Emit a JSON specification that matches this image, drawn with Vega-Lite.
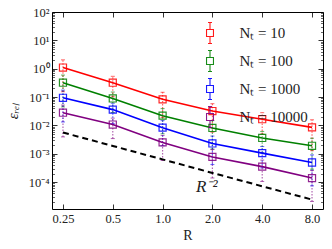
{
  "$schema": "https://vega.github.io/schema/vega-lite/v6.json",
  "width": 271,
  "height": 197,
  "autosize": {"type": "none"},
  "padding": {"left": 52, "top": 12, "right": 9, "bottom": 40},
  "config": {
    "font": "Liberation Serif",
    "view": {"stroke": "black", "strokeWidth": 1},
    "axis": {"domain": false, "grid": false, "tickColor": "black", "tickWidth": 0.8, "labelColor": "#222", "labelFont": "Liberation Serif", "labelFontSize": 12.5, "titleFont": "Liberation Serif", "titleFontWeight": "normal", "titleColor": "#222"}
  },
  "datasets": {
    "main": [
      {"series": "Nₜ = 10", "R": 0.25, "v": 1.1, "lo": 0.154, "hi": 2.05},
      {"series": "Nₜ = 10", "R": 0.5, "v": 0.32, "lo": 0.102, "hi": 0.538},
      {"series": "Nₜ = 10", "R": 1.0, "v": 0.083, "lo": 0.0191, "hi": 0.147},
      {"series": "Nₜ = 10", "R": 2.0, "v": 0.032, "lo": 0.00576, "hi": 0.0582},
      {"series": "Nₜ = 10", "R": 4.0, "v": 0.0165, "lo": 0.00495, "hi": 0.028},
      {"series": "Nₜ = 10", "R": 8.0, "v": 0.0085, "lo": 0.00128, "hi": 0.0157},
      {"series": "Nₜ = 100", "R": 0.25, "v": 0.32, "lo": 0.0448, "hi": 0.595},
      {"series": "Nₜ = 100", "R": 0.5, "v": 0.089, "lo": 0.0285, "hi": 0.15},
      {"series": "Nₜ = 100", "R": 1.0, "v": 0.022, "lo": 0.00506, "hi": 0.039},
      {"series": "Nₜ = 100", "R": 2.0, "v": 0.0081, "lo": 0.00146, "hi": 0.0147},
      {"series": "Nₜ = 100", "R": 4.0, "v": 0.0036, "lo": 0.00108, "hi": 0.00612},
      {"series": "Nₜ = 100", "R": 8.0, "v": 0.0019, "lo": 0.000285, "hi": 0.00352},
      {"series": "Nₜ = 1000", "R": 0.25, "v": 0.094, "lo": 0.0132, "hi": 0.175},
      {"series": "Nₜ = 1000", "R": 0.5, "v": 0.036, "lo": 0.0115, "hi": 0.0605},
      {"series": "Nₜ = 1000", "R": 1.0, "v": 0.0083, "lo": 0.00191, "hi": 0.0147},
      {"series": "Nₜ = 1000", "R": 2.0, "v": 0.0023, "lo": 0.000414, "hi": 0.00419},
      {"series": "Nₜ = 1000", "R": 4.0, "v": 0.00105, "lo": 0.000315, "hi": 0.00179},
      {"series": "Nₜ = 1000", "R": 8.0, "v": 0.00049, "lo": 0.0000735, "hi": 0.000907},
      {"series": "Nₜ = 10000", "R": 0.25, "v": 0.028, "lo": 0.00392, "hi": 0.0521},
      {"series": "Nₜ = 10000", "R": 0.5, "v": 0.0107, "lo": 0.00342, "hi": 0.018},
      {"series": "Nₜ = 10000", "R": 1.0, "v": 0.0025, "lo": 0.000575, "hi": 0.00443},
      {"series": "Nₜ = 10000", "R": 2.0, "v": 0.00077, "lo": 0.000139, "hi": 0.0014},
      {"series": "Nₜ = 10000", "R": 4.0, "v": 0.00035, "lo": 0.000105, "hi": 0.000595},
      {"series": "Nₜ = 10000", "R": 8.0, "v": 0.000138, "lo": 0.0000207, "hi": 0.000255}
    ],
    "ref": [
      {"R": 0.25, "y": 0.0056},
      {"R": 0.5, "y": 0.00188},
      {"R": 1.0, "y": 0.00063},
      {"R": 2.0, "y": 0.00021},
      {"R": 4.0, "y": 0.000071},
      {"R": 8.0, "y": 0.000024}
    ],
    "note": [
      {"R": 1.85, "y": 0.000066, "label": "R⁻²"}
    ]
  },
  "resolve": {"axis": {"x": "independent", "y": "independent"}, "legend": {"color": "independent"}},
  "layer": [
    {
      "data": {"name": "main"},
      "mark": {"type": "errorbar", "ticks": {"size": 4, "strokeWidth": 1, "opacity": 0.6}, "rule": {"strokeDash": [1.5, 1.5], "strokeWidth": 1.2, "opacity": 0.6}},
      "encoding": {
        "x": {"field": "R", "type": "quantitative", "scale": {"type": "log", "base": 2, "domain": [0.2146, 9.32], "nice": false}, "axis": null},
        "y": {"field": "lo", "type": "quantitative", "scale": {"type": "log", "domain": [1.12e-5, 100], "nice": false}, "axis": null},
        "y2": {"field": "hi"},
        "color": {"field": "series", "type": "nominal", "scale": {"domain": ["Nₜ = 10", "Nₜ = 100", "Nₜ = 1000", "Nₜ = 10000"], "range": ["#ff0000", "#008000", "#0000ff", "#800080"]}, "legend": null}
      }
    },
    {
      "data": {"name": "main"},
      "mark": {"type": "line", "strokeWidth": 1.6},
      "encoding": {
        "x": {"field": "R", "type": "quantitative", "scale": {"type": "log", "base": 2, "domain": [0.2146, 9.32], "nice": false},
          "axis": {"orient": "bottom", "values": [0.25, 0.5, 1, 2, 4, 8], "labelExpr": "datum.value < 1 ? toString(datum.value) : format(datum.value, '.1f')", "tickSize": -5, "labelPadding": 8, "title": "R", "titleFontSize": 14, "titlePadding": 4}},
        "y": {"field": "v", "type": "quantitative", "scale": {"type": "log", "domain": [1.12e-5, 100], "nice": false},
          "axis": {"orient": "left", "values": [0.0001, 0.001, 0.01, 0.1, 1, 10, 100], "labelExpr": "datum.value >= 100 ? '10²' : datum.value >= 10 ? '10¹' : datum.value >= 1 ? '10⁰' : datum.value >= 0.1 ? '10⁻¹' : datum.value >= 0.01 ? '10⁻²' : datum.value >= 0.001 ? '10⁻³' : '10⁻⁴'", "tickSize": -5, "labelPadding": 8, "title": "εᵣₑₗ", "titleFontSize": 15, "titleFontStyle": "italic", "titlePadding": 8}},
        "color": {"field": "series", "type": "nominal", "legend": null}
      }
    },
    {
      "data": {"name": "main"},
      "mark": {"type": "point", "shape": "square", "filled": false, "size": 50, "strokeWidth": 1.2, "opacity": 0.85},
      "encoding": {
        "x": {"field": "R", "type": "quantitative", "scale": {"type": "log", "base": 2, "domain": [0.2146, 9.32], "nice": false},
          "axis": {"orient": "top", "values": [0.25, 0.5, 1, 2, 4, 8], "labels": false, "tickSize": -5, "title": null}},
        "y": {"field": "v", "type": "quantitative", "scale": {"type": "log", "domain": [1.12e-5, 100], "nice": false},
          "axis": {"orient": "right", "values": [0.0001, 0.001, 0.01, 0.1, 1, 10, 100], "labels": false, "tickSize": -5, "title": null}},
        "color": {"field": "series", "type": "nominal",
          "legend": {"orient": "none", "legendX": 146.5, "legendY": 9.5, "title": null, "padding": 0, "symbolType": "M-0.33,-0.33H0.33V0.33H-0.33Z M0,-0.33V-1 M0,0.33V1 M-0.19,-1H0.19 M-0.19,1H0.19", "symbolSize": 441, "symbolStrokeWidth": 1.1, "symbolOpacity": 0.9, "symbolFillColor": "transparent", "labelFont": "Liberation Serif", "labelFontSize": 15, "labelColor": "#222", "labelOffset": 18, "rowPadding": 1}}
      }
    },
    {
      "data": {"name": "ref"},
      "mark": {"type": "line", "color": "black", "strokeWidth": 2, "strokeDash": [6, 4]},
      "encoding": {
        "x": {"field": "R", "type": "quantitative", "scale": {"type": "log", "base": 2, "domain": [0.2146, 9.32], "nice": false}, "axis": null},
        "y": {"field": "y", "type": "quantitative", "scale": {"type": "log", "domain": [1.12e-5, 100], "nice": false},
          "axis": {"orient": "left", "values": [2e-5, 3e-5, 4e-5, 5e-5, 6e-5, 7e-5, 8e-5, 9e-5, 2e-4, 3e-4, 4e-4, 5e-4, 6e-4, 7e-4, 8e-4, 9e-4, 0.002, 0.003, 0.004, 0.005, 0.006, 0.007, 0.008, 0.009, 0.02, 0.03, 0.04, 0.05, 0.06, 0.07, 0.08, 0.09, 0.2, 0.3, 0.4, 0.5, 0.6, 0.7, 0.8, 0.9, 2, 3, 4, 5, 6, 7, 8, 9, 20, 30, 40, 50, 60, 70, 80, 90], "labels": false, "tickSize": -2.5, "tickWidth": 0.6, "title": null}}
      }
    },
    {
      "data": {"name": "note"},
      "mark": {"type": "text", "font": "Liberation Serif", "fontSize": 17, "fontStyle": "italic", "color": "#222"},
      "encoding": {
        "x": {"field": "R", "type": "quantitative", "scale": {"type": "log", "base": 2, "domain": [0.2146, 9.32], "nice": false}, "axis": null},
        "y": {"field": "y", "type": "quantitative", "scale": {"type": "log", "domain": [1.12e-5, 100], "nice": false},
          "axis": {"orient": "right", "values": [2e-5, 3e-5, 4e-5, 5e-5, 6e-5, 7e-5, 8e-5, 9e-5, 2e-4, 3e-4, 4e-4, 5e-4, 6e-4, 7e-4, 8e-4, 9e-4, 0.002, 0.003, 0.004, 0.005, 0.006, 0.007, 0.008, 0.009, 0.02, 0.03, 0.04, 0.05, 0.06, 0.07, 0.08, 0.09, 0.2, 0.3, 0.4, 0.5, 0.6, 0.7, 0.8, 0.9, 2, 3, 4, 5, 6, 7, 8, 9, 20, 30, 40, 50, 60, 70, 80, 90], "labels": false, "tickSize": -2.5, "tickWidth": 0.6, "title": null}},
        "text": {"field": "label"}
      }
    }
  ]
}
